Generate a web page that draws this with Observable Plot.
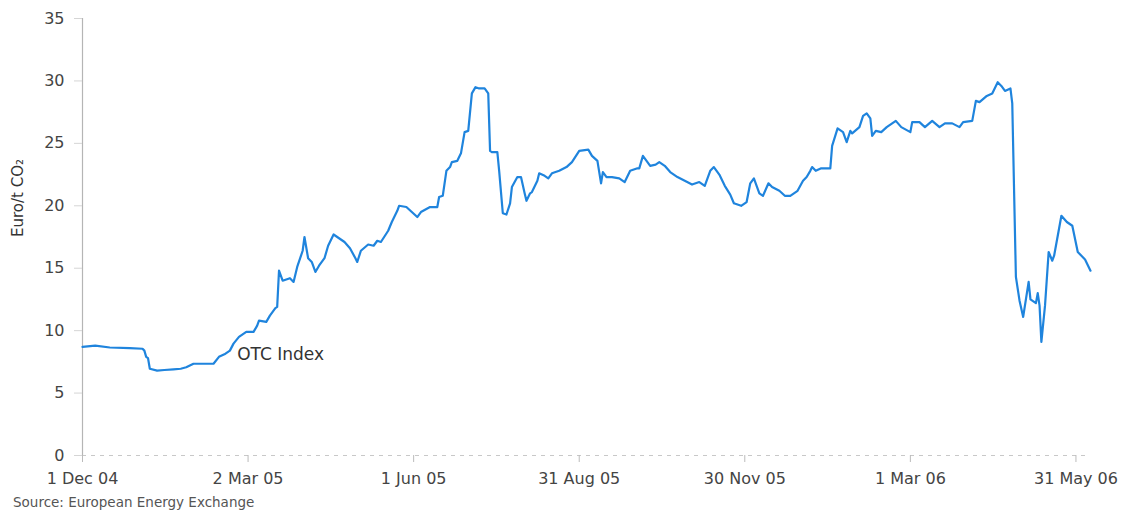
<!DOCTYPE html>
<html>
<head>
<meta charset="utf-8">
<script src="https://cdn.jsdelivr.net/npm/d3@7"></script>
<script src="https://cdn.jsdelivr.net/npm/@observablehq/plot@0.6"></script>
<style>
  html, body { margin: 0; padding: 0; background: #fff; }
  #chart { width: 1125px; }
  #source { font-family: "DejaVu Sans", sans-serif; font-size: 13.5px; color: #555; margin-left: 13px; margin-top: 4px; line-height: 16px; }
</style>
</head>
<body>
<div id="chart"></div>
<div id="source">Source: European Energy Exchange</div>
<script>
// ---- Data ----
const dates = [
  "2004-12-01","2004-12-08","2004-12-16","2004-12-27","2005-01-03","2005-01-04","2005-01-05","2005-01-06","2005-01-07",
  "2005-01-11","2005-01-15","2005-01-20","2005-01-24","2005-01-27","2005-01-31","2005-02-11","2005-02-14","2005-02-17",
  "2005-02-20","2005-02-22","2005-02-25","2005-03-01","2005-03-05","2005-03-07","2005-03-08","2005-03-12","2005-03-14",
  "2005-03-17","2005-03-18","2005-03-19","2005-03-21","2005-03-25","2005-03-27","2005-03-29","2005-04-01","2005-04-02",
  "2005-04-04","2005-04-06","2005-04-08","2005-04-10","2005-04-13","2005-04-15","2005-04-18","2005-04-21","2005-04-24",
  "2005-04-27","2005-04-30","2005-05-01","2005-05-03","2005-05-07","2005-05-10","2005-05-12","2005-05-14","2005-05-18",
  "2005-05-20","2005-05-23","2005-05-24","2005-05-28","2005-05-31","2005-06-03","2005-06-05","2005-06-10","2005-06-14",
  "2005-06-15","2005-06-17","2005-06-19","2005-06-21","2005-06-22","2005-06-25","2005-06-27","2005-06-29","2005-07-01",
  "2005-07-03","2005-07-05","2005-07-07","2005-07-10","2005-07-12","2005-07-13","2005-07-14","2005-07-17","2005-07-18",
  "2005-07-20","2005-07-22","2005-07-24","2005-07-25","2005-07-28","2005-07-30","2005-08-01","2005-08-02","2005-08-04",
  "2005-08-05","2005-08-08","2005-08-09","2005-08-12","2005-08-14","2005-08-16","2005-08-20","2005-08-24","2005-08-27",
  "2005-08-31","2005-09-05","2005-09-07","2005-09-10","2005-09-12","2005-09-13","2005-09-15","2005-09-18","2005-09-22",
  "2005-09-25","2005-09-28","2005-10-02","2005-10-03","2005-10-05","2005-10-07","2005-10-09","2005-10-12","2005-10-14",
  "2005-10-17","2005-10-20","2005-10-24","2005-10-28","2005-11-01","2005-11-05","2005-11-08","2005-11-11","2005-11-13",
  "2005-11-16","2005-11-19","2005-11-22","2005-11-24","2005-11-28","2005-12-01","2005-12-03","2005-12-05","2005-12-08",
  "2005-12-10","2005-12-13","2005-12-15","2005-12-19","2005-12-22","2005-12-25","2005-12-29","2006-01-01","2006-01-03",
  "2006-01-05","2006-01-06","2006-01-08","2006-01-11","2006-01-16","2006-01-17","2006-01-20","2006-01-23","2006-01-25",
  "2006-01-27","2006-01-28","2006-02-01","2006-02-03","2006-02-05","2006-02-07","2006-02-08","2006-02-10","2006-02-13",
  "2006-02-16","2006-02-21","2006-02-24","2006-03-01","2006-03-02","2006-03-06","2006-03-09","2006-03-13","2006-03-17",
  "2006-03-20","2006-03-24","2006-03-28","2006-03-30","2006-04-04","2006-04-06","2006-04-08","2006-04-12","2006-04-15",
  "2006-04-18","2006-04-20","2006-04-22","2006-04-25","2006-04-26","2006-04-28","2006-04-30","2006-05-02","2006-05-05",
  "2006-05-06","2006-05-09","2006-05-10","2006-05-11","2006-05-12","2006-05-14","2006-05-16","2006-05-18","2006-05-19",
  "2006-05-23","2006-05-26","2006-05-29","2006-06-01","2006-06-05","2006-06-08"
];
const values = [
  8.7,8.8,8.65,8.6,8.55,8.4,7.9,7.8,6.95,
  6.8,6.85,6.9,6.95,7.07,7.35,7.35,7.9,8.1,
  8.4,8.96,9.5,9.9,9.9,10.4,10.8,10.7,11.2,
  11.8,11.9,14.8,14.0,14.2,13.9,15.1,16.4,17.5,
  15.8,15.5,14.7,15.2,15.8,16.8,17.7,17.4,17.1,
  16.6,15.8,15.5,16.4,16.9,16.8,17.2,17.1,18.0,
  18.7,19.6,20.0,19.9,19.5,19.1,19.5,19.9,19.9,
  20.7,20.8,22.8,23.1,23.5,23.6,24.2,25.9,26.0,
  29.0,29.5,29.4,29.4,29.0,24.4,24.3,24.3,22.8,
  19.4,19.3,20.2,21.5,22.3,22.3,21.0,20.4,21.0,
  21.1,22.0,22.6,22.4,22.2,22.6,22.8,23.1,23.5,
  24.4,24.5,24.0,23.6,21.8,22.7,22.3,22.3,22.2,
  21.9,22.8,23.0,23.0,24.0,23.6,23.2,23.3,23.5,
  23.2,22.7,22.3,22.0,21.7,21.9,21.6,22.8,23.1,
  22.5,21.6,20.9,20.2,20.0,20.3,21.8,22.2,21.0,
  20.8,21.8,21.5,21.2,20.8,20.8,21.2,22.0,22.3,
  22.8,23.1,22.8,23.0,23.0,24.8,26.2,25.9,25.1,
  26.0,25.8,26.3,27.2,27.4,27.0,25.6,26.0,25.9,
  26.3,26.8,26.3,25.9,26.7,26.7,26.3,26.8,26.3,
  26.6,26.6,26.3,26.7,26.8,28.4,28.3,28.8,29.0,
  29.9,29.6,29.2,29.4,28.2,14.3,12.4,11.1,13.9,
  12.5,12.2,13.0,12.0,9.1,12.0,16.3,15.6,16.0,
  19.2,18.7,18.4,16.3,15.7,14.8
];
const xTickDates = ["2004-12-01","2005-03-02","2005-06-01","2005-08-31","2005-11-30","2006-03-01","2006-05-31"];
const xTickLabels = ["1 Dec 04","2 Mar 05","1 Jun 05","31 Aug 05","30 Nov 05","1 Mar 06","31 May 06"];
const yTicks = [0, 5, 10, 15, 20, 25, 30, 35];
const yLabel = "Euro/t CO\u2082";
const seriesLabel = [{date: "2005-02-24", value: 8.1, text: "OTC Index"}];

// ---- Build ----
const parse = d3.utcParse("%Y-%m-%d");
const data = dates.map((d, i) => ({date: parse(d), value: values[i]}));
const tickDates = xTickDates.map(parse);
const labelByTime = new Map(tickDates.map((d, i) => [+d, xTickLabels[i]]));
const annotations = seriesLabel.map(a => ({...a, date: parse(a.date)}));

const chart = Plot.plot({
  width: 1125,
  height: 490,
  marginLeft: 82,
  marginRight: 35,
  marginTop: 18,
  marginBottom: 35,
  style: {fontFamily: "DejaVu Sans, sans-serif", fontSize: "16px", background: "#fff", color: "#444"},
  x: {type: "utc", domain: [data[0].date, data[data.length - 1].date]},
  y: {domain: [0, 35]},
  marks: [
    Plot.ruleY([0], {stroke: "#c8c8c8", strokeDasharray: "4,5"}),
    Plot.ruleX([data[0].date], {y1: 0, y2: 35, stroke: "#b5b5b5", strokeWidth: 1.2}),
    Plot.axisX({ticks: tickDates, tickFormat: d => labelByTime.get(+d), tickSize: 7, tickPadding: 10, stroke: "#bbb", fill: "#444", label: null}),
    Plot.axisY({ticks: yTicks, tickSize: 8, tickPadding: 10, stroke: "#d5d5d5", fill: "#444", label: null}),
    Plot.text([yLabel], {frameAnchor: "left", dx: -64, rotate: -90, fontSize: 15, fill: "#333"}),
    Plot.lineY(data, {x: "date", y: "value", stroke: "#1f84dd", strokeWidth: 2.2, strokeLinejoin: "round"}),
    Plot.text(annotations, {x: "date", y: "value", text: "text", textAnchor: "start", fontSize: 17, fill: "#333"})
  ]
});
document.getElementById("chart").appendChild(chart);
</script>
</body>
</html>
